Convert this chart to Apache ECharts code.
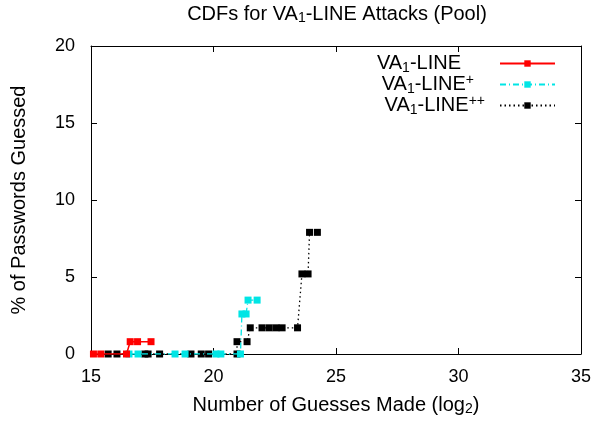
<!DOCTYPE html>
<html><head><meta charset="utf-8">
<script src="https://cdn.jsdelivr.net/npm/echarts@6/dist/echarts.min.js"></script>
<style>html,body{margin:0;padding:0;background:#fff}#c{width:603px;height:423px}</style>
</head><body><div id="c"></div>
<script>
const xTicks = [15, 20, 25, 30, 35];
const yTicks = [0, 5, 10, 15, 20];
const seriesNames = ['VA1-LINE', 'VA1-LINE+', 'VA1-LINE++'];
const lineX = [15.1, 15.4, 16.45, 16.6, 16.9, 17.45];
const lineY = [0, 0, 0, 0.8, 0.8, 0.8];
const plusX = [16.55, 16.92, 18.43, 18.84, 20.1, 20.3, 21.1, 21.16, 21.33, 21.41, 21.78];
const plusY = [0, 0, 0, 0, 0, 0, 0, 2.6, 2.6, 3.5, 3.5];
const ppX = [15.7, 16.06, 17.2, 17.33, 17.8, 19.08, 19.5, 19.8, 20.96, 20.96, 21.37, 21.5, 21.98, 22.27, 22.55, 22.8, 23.43, 23.61, 23.86, 23.92, 24.24];
const ppY = [0, 0, 0, 0, 0, 0, 0, 0, 0, 0.8, 0.8, 1.7, 1.7, 1.7, 1.7, 1.7, 1.7, 5.2, 5.2, 7.9, 7.9];

const FONT = '"Liberation Sans", Arial, Helvetica, sans-serif';
const pairs = (xs, ys) => xs.map((x, i) => [x, ys[i]]);
const legendLabels = {
  'VA1-LINE': '{t|VA}{s|1}{t|-LINE}{g0| }',
  'VA1-LINE+': '{t|VA}{s|1}{t|-LINE}{p|+}{g1| }',
  'VA1-LINE++': '{t|VA}{s|1}{t|-LINE}{p|++}{g2| }'
};
const colors = ['#ff0000', '#00e5e5', '#000000'];
const types = ['solid', [6, 3, 1, 3], [1.5, 3]];
const dataSets = [pairs(lineX, lineY), pairs(plusX, plusY), pairs(ppX, ppY)];

const axisCommon = {
  type: 'value',
  axisLine: { show: true, onZero: false, lineStyle: { color: '#000', width: 1 } },
  axisTick: { show: true, inside: true, length: 6, lineStyle: { color: '#000' } },
  splitLine: { show: false }
};
const base = { fontFamily: FONT, color: '#000', fontWeight: 'normal' };

const chart = echarts.init(document.getElementById('c'), null, { renderer: 'canvas' });
chart.setOption({
  animation: false,
  backgroundColor: '#fff',
  title: {
    text: '{t|CDFs for VA}{s|1}{t|-LINE Attacks (Pool)}',
    left: 337, top: 2, textAlign: 'center', padding: 0,
    textStyle: {
      fontWeight: 'normal',
      rich: {
        t: Object.assign({ fontSize: 20, lineHeight: 24 }, base),
        s: Object.assign({ fontSize: 14, lineHeight: 24, padding: [8, 0, 0, 0] }, base)
      }
    }
  },
  grid: { left: 91, right: 22, top: 46, bottom: 69 },
  legend: {
    orient: 'vertical', right: 47, top: 52, align: 'right', padding: 0,
    itemWidth: 55, itemHeight: 8, itemGap: -2,
    data: seriesNames,
    formatter: n => legendLabels[n],
    textStyle: {
      rich: {
        t: Object.assign({ fontSize: 20, lineHeight: 20 }, base),
        s: Object.assign({ fontSize: 14, lineHeight: 20, padding: [9, 0, 0, 0] }, base),
        p: Object.assign({ fontSize: 14, lineHeight: 20, padding: [0, 0, 9, 0] }, base),
        g0: Object.assign({ fontSize: 20, lineHeight: 20, width: 34 }, base),
        g1: Object.assign({ fontSize: 20, lineHeight: 20, width: 21 }, base),
        g2: Object.assign({ fontSize: 20, lineHeight: 20, width: 10 }, base)
      }
    }
  },
  xAxis: [
    Object.assign({}, axisCommon, {
      min: xTicks[0], max: xTicks[xTicks.length - 1], interval: 5,
      position: 'bottom',
      name: '{t|Number of Guesses Made (log}{s|2}{t|)}',
      nameLocation: 'middle', nameGap: 39,
      nameTextStyle: {
        rich: {
          t: Object.assign({ fontSize: 20, lineHeight: 24 }, base),
          s: Object.assign({ fontSize: 14, lineHeight: 24, padding: [8, 0, 0, 0] }, base)
        }
      },
      axisLabel: Object.assign({ fontSize: 18, margin: 14 }, base)
    }),
    Object.assign({}, axisCommon, {
      min: xTicks[0], max: xTicks[xTicks.length - 1], interval: 5,
      position: 'top', axisLabel: { show: false }
    })
  ],
  yAxis: [
    Object.assign({}, axisCommon, {
      min: yTicks[0], max: yTicks[yTicks.length - 1], interval: 5,
      position: 'left',
      name: '% of Passwords Guessed', nameLocation: 'middle', nameGap: 62,
      nameTextStyle: Object.assign({ fontSize: 20 }, base),
      axisLabel: Object.assign({ fontSize: 18, margin: 16 }, base)
    }),
    Object.assign({}, axisCommon, {
      min: yTicks[0], max: yTicks[yTicks.length - 1], interval: 5,
      position: 'right', axisLabel: { show: false }
    })
  ],
  series: seriesNames.map((n, i) => ({
    name: n, type: 'line', data: dataSets[i],
    xAxisIndex: 0, yAxisIndex: 0,
    symbol: 'rect', symbolSize: 7,
    itemStyle: { color: colors[i] },
    lineStyle: { color: colors[i], width: i === 0 ? 1.5 : 1.3, type: types[i] },
    z: 2 + (2 - i)
  }))
});
</script></body></html>
